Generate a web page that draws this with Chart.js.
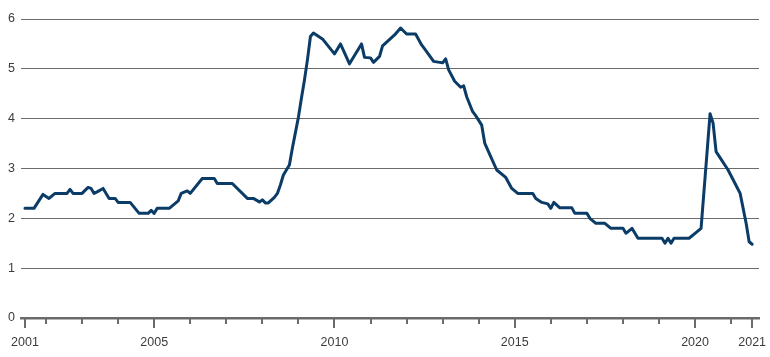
<!DOCTYPE html>
<html>
<head>
<meta charset="utf-8">
<script src="https://cdn.jsdelivr.net/npm/chart.js@4"></script>
<style>
  html, body { margin: 0; padding: 0; background: #fff; }
  #wrap { width: 770px; height: 357px; }
</style>
</head>
<body>
<div id="wrap"><canvas id="rateChart"></canvas></div>
<script>
// monthly readings, only the turning points of the line
const months = [
  '2001-06', '2001-09', '2001-12', '2002-02', '2002-04', '2002-08', '2002-09', '2002-10',
  '2003-01', '2003-03', '2003-04', '2003-05', '2003-06', '2003-08', '2003-10', '2003-12',
  '2004-01', '2004-05', '2004-08', '2004-11', '2004-12', '2005-01', '2005-02', '2005-06',
  '2005-08', '2005-09', '2005-10', '2005-12', '2006-01', '2006-05', '2006-09', '2006-10',
  '2007-03', '2007-08', '2007-10', '2007-12', '2008-01', '2008-02', '2008-03', '2008-05',
  '2008-06', '2008-07', '2008-08', '2008-10', '2008-11', '2008-12', '2009-01', '2009-02',
  '2009-03', '2009-04', '2009-05', '2009-06', '2009-08', '2009-09', '2009-11', '2010-01',
  '2010-03', '2010-06', '2010-10', '2010-11', '2011-01', '2011-02', '2011-04', '2011-05',
  '2011-07', '2011-09', '2011-11', '2012-01', '2012-04', '2012-06', '2012-07', '2012-10',
  '2012-12', '2013-01', '2013-02', '2013-03', '2013-05', '2013-07', '2013-08', '2013-09',
  '2013-11', '2013-12', '2014-02', '2014-03', '2014-05', '2014-07', '2014-10', '2014-12',
  '2015-02', '2015-07', '2015-08', '2015-10', '2015-12', '2016-01', '2016-02', '2016-04',
  '2016-08', '2016-09', '2017-01', '2017-02', '2017-04', '2017-07', '2017-09', '2018-01',
  '2018-02', '2018-04', '2018-06', '2019-02', '2019-03', '2019-04', '2019-05', '2019-06',
  '2019-11', '2020-01', '2020-03', '2020-06', '2020-07', '2020-08', '2020-12', '2021-03',
  '2021-04', '2021-06', '2021-07', '2021-08'
];
const rates = [
  2.2, 2.2, 2.48, 2.4, 2.5, 2.5, 2.58, 2.5,
  2.5, 2.62, 2.6, 2.5, 2.53, 2.6, 2.4, 2.4,
  2.32, 2.32, 2.1, 2.1, 2.16, 2.1, 2.2, 2.2,
  2.3, 2.35, 2.5, 2.55, 2.5, 2.8, 2.8, 2.7,
  2.7, 2.4, 2.4, 2.33, 2.37, 2.31, 2.31, 2.42,
  2.5, 2.67, 2.87, 3.07, 3.41, 3.72, 4.03, 4.41,
  4.77, 5.18, 5.65, 5.72, 5.64, 5.6, 5.45, 5.3,
  5.5, 5.1, 5.5, 5.23, 5.22, 5.13, 5.25, 5.46,
  5.57, 5.68, 5.82, 5.7, 5.7, 5.48, 5.4, 5.15,
  5.13, 5.12, 5.2, 4.98, 4.75, 4.63, 4.66, 4.44,
  4.14, 4.06, 3.87, 3.51, 3.24, 2.97, 2.82, 2.6,
  2.5, 2.5, 2.4, 2.32, 2.29, 2.2, 2.32, 2.21,
  2.21, 2.1, 2.1, 2.0, 1.9, 1.9, 1.8, 1.8,
  1.7, 1.8, 1.6, 1.6, 1.5, 1.6, 1.5, 1.6,
  1.6, 1.7, 1.8, 4.1, 3.91, 3.34, 2.97, 2.62,
  2.5, 1.9, 1.53, 1.48
];
const labelYears = [2005, 2010, 2015, 2020];
const yTicks = [0, 1, 2, 3, 4, 5, 6];

const lineColor = '#0b3c68';
const axisColor = '#6b6b6b';
const textColor = '#3c3c3c';
const fontFamily = '"Liberation Sans", Arial, sans-serif';

const toYear = m => {
  const [y, mo] = m.split('-').map(Number);
  return y + (mo - 1) / 12;
};
const points = months.map((m, i) => ({ x: toYear(m), y: rates[i] }));
const firstX = points[0].x;
const lastX = points[points.length - 1].x;

// short ticks every year, long ones where there is a label
const tickMarks = {
  id: 'tickMarks',
  afterDraw(chart) {
    const xs = chart.scales.x;
    const ctx = chart.ctx;
    const y0 = chart.chartArea.bottom;
    ctx.save();
    ctx.strokeStyle = axisColor;
    ctx.lineWidth = 2;
    xs.ticks.forEach(t => {
      const px = Math.round(xs.getPixelForValue(t.value));
      const len = t.label ? 10 : 6;
      ctx.beginPath();
      ctx.moveTo(px, y0);
      ctx.lineTo(px, y0 + len);
      ctx.stroke();
    });
    ctx.restore();
  }
};

new Chart(document.getElementById('rateChart'), {
  type: 'line',
  data: {
    datasets: [{
      data: points,
      borderColor: lineColor,
      borderWidth: 3,
      borderJoinStyle: 'round',
      borderCapStyle: 'round',
      pointRadius: 0,
      tension: 0,
      fill: false
    }]
  },
  options: {
    responsive: true,
    maintainAspectRatio: false,
    animation: false,
    layout: { padding: { top: 19, right: 11, left: 0, bottom: 0 } },
    plugins: { legend: { display: false }, tooltip: { enabled: false } },
    scales: {
      x: {
        type: 'linear',
        min: firstX - 0.11,
        max: lastX + 0.19,
        afterBuildTicks: scale => {
          const ticks = [{ value: firstX }];
          for (let y = 2002; y <= 2021; y++) ticks.push({ value: y });
          ticks.push({ value: lastX });
          scale.ticks = ticks;
        },
        afterFit: scale => {
          scale.height = 39;
          scale.paddingLeft = 0;
          scale.paddingRight = 0;
        },
        ticks: {
          autoSkip: false,
          maxRotation: 0,
          padding: 17,
          color: textColor,
          font: { family: fontFamily, size: 12.5 },
          callback: (value, i, ticks) => {
            if (i === 0) return '2001';
            if (i === ticks.length - 1) return '2021';
            return labelYears.includes(value) ? String(value) : '';
          }
        },
        grid: { drawOnChartArea: false, drawTicks: false },
        border: { display: true, color: axisColor, width: 2.5 }
      },
      y: {
        min: yTicks[0],
        max: yTicks[yTicks.length - 1],
        afterBuildTicks: scale => { scale.ticks = yTicks.map(v => ({ value: v })); },
        afterFit: scale => {
          scale.width = 21;
          scale.paddingTop = 0;
          scale.paddingBottom = 0;
        },
        ticks: {
          padding: 6,
          color: textColor,
          font: { family: fontFamily, size: 12.5 }
        },
        grid: { color: axisColor, lineWidth: 1, drawTicks: false },
        border: { display: false }
      }
    }
  },
  plugins: [tickMarks]
});
</script>
</body>
</html>
